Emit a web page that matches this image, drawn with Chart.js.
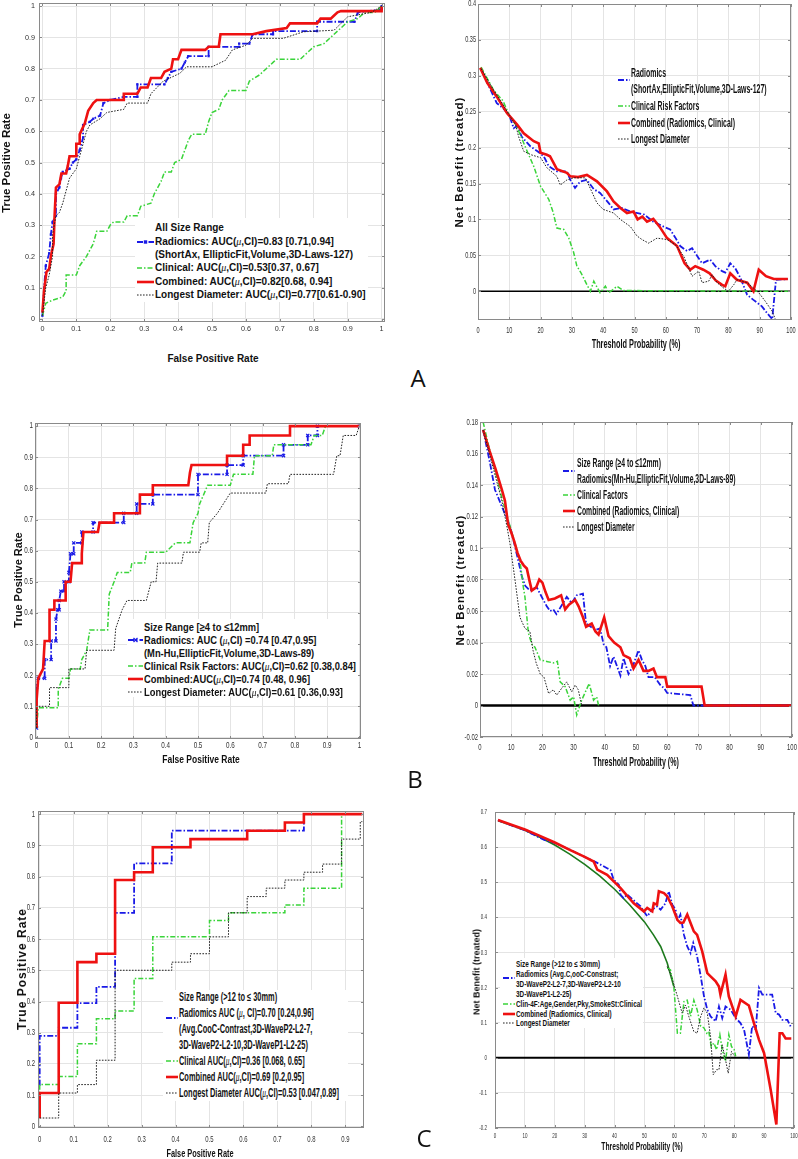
<!DOCTYPE html>
<html lang="en">
<head>
<meta charset="UTF-8">
<title>ROC and decision curves by nodule size</title>
<script src="https://cdn.jsdelivr.net/npm/chart.js@4.4.1/dist/chart.umd.min.js"></script>
<style>
    html, body { margin: 0; padding: 0; background: #fff; }
    body { width: 798px; height: 1159px; position: relative; overflow: hidden;
           font-family: 'Liberation Sans', Arial, sans-serif; color: #111; }
    canvas { position: absolute; }
    .txt { position: absolute; white-space: nowrap; line-height: 1; }
    .mu { font-family: 'Liberation Serif', serif; font-style: italic; font-weight: normal; }
    .letter { position: absolute; font-family: 'Open Sans', sans-serif; font-size: 24px;
              color: #111; transform: translate(-50%, -50%); line-height: 1; }
</style>
</head>
<body>
<script>
// ---- tick values / labels ----
const rocTicks = [0, 0.1, 0.2, 0.3, 0.4, 0.5, 0.6, 0.7, 0.8, 0.9, 1];
const rocLabels = ['0', '0.1', '0.2', '0.3', '0.4', '0.5', '0.6', '0.7', '0.8', '0.9', '1'];
const fprTicksC = [0, 0.1, 0.2, 0.3, 0.4, 0.5, 0.6, 0.7, 0.8, 0.9];
const fprLabelsC = ['0', '0.1', '0.2', '0.3', '0.4', '0.5', '0.6', '0.7', '0.8', '0.9'];
const pctTicks = [0, 10, 20, 30, 40, 50, 60, 70, 80, 90, 100];
const pctLabels = ['0', '10', '20', '30', '40', '50', '60', '70', '80', '90', '100'];
const nbTicksA = [0, 0.05, 0.1, 0.15, 0.2, 0.25, 0.3, 0.35, 0.4];
const nbLabelsA = ['0', '0.05', '0.1', '0.15', '0.2', '0.25', '0.3', '0.35', '0.4'];
const nbTicksB = [-0.02, 0, 0.02, 0.04, 0.06, 0.08, 0.1, 0.12, 0.14, 0.16, 0.18];
const nbLabelsB = ['-0.02', '0', '0.02', '0.04', '0.06', '0.08', '0.1', '0.12', '0.14', '0.16', '0.18'];
const nbTicksC = [-0.2, -0.1, 0, 0.1, 0.2, 0.3, 0.4, 0.5, 0.6, 0.7];
const nbLabelsC = ['-0.2', '-0.1', '0', '0.1', '0.2', '0.3', '0.4', '0.5', '0.6', '0.7'];

// ---- A: all size range, ROC [fpr, tpr] ----
const rocA_radiomics = [[0,0.01],[0.005,0.1],[0.01,0.17],[0.02,0.21],[0.025,0.27],[0.03,0.31],[0.04,0.33],[0.04,0.4],[0.05,0.42],[0.055,0.45],[0.06,0.47],[0.08,0.48],[0.09,0.5],[0.1,0.51],[0.11,0.54],[0.12,0.58],[0.12,0.62],[0.14,0.63],[0.15,0.64],[0.17,0.65],[0.18,0.69],[0.2,0.7],[0.24,0.71],[0.28,0.71],[0.28,0.75],[0.36,0.75],[0.37,0.77],[0.38,0.79],[0.41,0.8],[0.42,0.82],[0.43,0.84],[0.49,0.84],[0.49,0.87],[0.58,0.87],[0.58,0.88],[0.61,0.88],[0.62,0.91],[0.68,0.91],[0.68,0.92],[0.81,0.92],[0.81,0.95],[0.92,0.95],[0.93,0.98],[1,0.99],[1,1]];
const rocA_clinical = [[0,0.01],[0.005,0.03],[0.01,0.05],[0.03,0.06],[0.06,0.07],[0.07,0.09],[0.07,0.14],[0.1,0.14],[0.11,0.17],[0.13,0.2],[0.15,0.24],[0.16,0.28],[0.19,0.28],[0.2,0.3],[0.21,0.31],[0.24,0.31],[0.25,0.33],[0.28,0.33],[0.29,0.36],[0.32,0.37],[0.33,0.4],[0.35,0.44],[0.36,0.47],[0.38,0.47],[0.39,0.5],[0.41,0.51],[0.42,0.54],[0.43,0.57],[0.44,0.59],[0.48,0.59],[0.49,0.63],[0.5,0.66],[0.52,0.67],[0.53,0.7],[0.55,0.73],[0.6,0.73],[0.61,0.76],[0.64,0.78],[0.66,0.8],[0.68,0.82],[0.69,0.83],[0.76,0.83],[0.78,0.85],[0.8,0.87],[0.83,0.88],[0.85,0.9],[0.87,0.92],[0.9,0.95],[0.93,0.96],[0.95,0.98],[0.98,0.98],[1,1]];
const rocA_combined = [[0,0.02],[0.005,0.09],[0.012,0.15],[0.02,0.16],[0.025,0.2],[0.033,0.24],[0.036,0.33],[0.04,0.42],[0.05,0.43],[0.056,0.465],[0.07,0.465],[0.075,0.49],[0.08,0.52],[0.1,0.52],[0.1,0.56],[0.11,0.56],[0.11,0.59],[0.125,0.625],[0.135,0.665],[0.15,0.69],[0.16,0.7],[0.24,0.7],[0.24,0.72],[0.28,0.72],[0.29,0.74],[0.31,0.74],[0.32,0.77],[0.35,0.77],[0.36,0.79],[0.38,0.8],[0.385,0.83],[0.4,0.83],[0.41,0.86],[0.48,0.86],[0.49,0.87],[0.52,0.87],[0.525,0.91],[0.62,0.91],[0.66,0.92],[0.72,0.93],[0.73,0.945],[0.81,0.945],[0.82,0.96],[0.85,0.96],[0.86,0.97],[0.87,0.98],[0.88,0.984],[1,0.984],[1,1]];
const rocA_diameter = [[0,0.01],[0.01,0.1],[0.02,0.14],[0.03,0.2],[0.03,0.27],[0.04,0.33],[0.05,0.34],[0.06,0.37],[0.07,0.41],[0.08,0.45],[0.1,0.48],[0.11,0.52],[0.12,0.56],[0.13,0.6],[0.14,0.62],[0.17,0.64],[0.19,0.66],[0.24,0.67],[0.25,0.69],[0.31,0.69],[0.32,0.72],[0.356,0.76],[0.405,0.785],[0.425,0.806],[0.5,0.806],[0.54,0.827],[0.56,0.86],[0.6,0.875],[0.62,0.897],[0.71,0.897],[0.77,0.918],[0.86,0.923],[0.9,0.966],[0.97,0.98],[1,1]];

// ---- A: decision curves [threshold %, net benefit] ----
const dcaA_radiomics = [[1,0.31],[3,0.29],[6,0.262],[8,0.255],[10,0.245],[11.4,0.227],[12.5,0.23],[14,0.215],[16.7,0.202],[19,0.195],[21,0.188],[22.6,0.174],[25.2,0.167],[28.4,0.167],[29.5,0.155],[31,0.144],[32.7,0.153],[34.8,0.155],[37,0.142],[39,0.137],[41.7,0.123],[43.3,0.114],[46,0.116],[48.7,0.111],[53,0.107],[56,0.097],[59.3,0.09],[61.4,0.086],[63,0.075],[64.6,0.063],[66.8,0.056],[68.4,0.06],[70.5,0.046],[71.6,0.039],[74.2,0.044],[75.8,0.035],[78,0.028],[79,0.026],[80.6,0.039],[82.2,0.032],[83.8,0.019],[86,-0.005],[88,-0.012],[90.7,-0.021],[92.3,-0.03],[94,-0.039],[95.2,0.016],[99,0.017]];
const dcaA_clinical = [[1,0.312],[5,0.28],[8,0.265],[10,0.245],[12,0.232],[13,0.223],[15.7,0.195],[17.8,0.174],[20,0.146],[22.6,0.128],[24,0.11],[25.2,0.088],[27.4,0.086],[29,0.074],[30.5,0.055],[31.6,0.035],[33,0.025],[34.8,0.009],[35.9,0],[37,0.014],[39,-0.002],[40.7,0.007],[41.7,-0.002],[43,0.002],[44.4,0.007],[46.5,0.001],[99,0]];
const dcaA_combined = [[0.7,0.311],[3,0.29],[6,0.271],[9.3,0.248],[12.5,0.232],[14.6,0.22],[17.8,0.209],[19.4,0.206],[20,0.193],[22,0.19],[23,0.188],[25.2,0.17],[28.4,0.165],[29.5,0.16],[32,0.159],[34.8,0.162],[38,0.153],[41.2,0.139],[43.3,0.125],[45.5,0.116],[47.6,0.109],[49.7,0.111],[51,0.1],[52.5,0.104],[54,0.097],[56,0.101],[58,0.09],[60.4,0.074],[63.6,0.063],[66,0.039],[67.8,0.03],[69.4,0.035],[72,0.03],[74,0.025],[76,0.015],[78,0.009],[79,0.007],[80.6,0.025],[82.7,0.016],[86,0.012],[88,0],[89.7,0.03],[92,0.021],[94.5,0.017],[99,0.017]];
const dcaA_diameter = [[1,0.31],[5,0.28],[8,0.26],[10,0.245],[12,0.232],[13,0.215],[14.6,0.195],[17,0.19],[20,0.186],[22,0.172],[25.2,0.16],[26.3,0.148],[28.4,0.155],[30.6,0.158],[34.3,0.158],[36,0.142],[38,0.123],[40,0.114],[43.3,0.109],[45.5,0.1],[48.7,0.09],[50.8,0.077],[52.4,0.072],[54.5,0.067],[57.2,0.074],[60.4,0.072],[63,0.065],[65.7,0.049],[68.4,0.021],[70.5,0.028],[71.6,0.012],[73.7,0.014],[74.8,0.023],[76.4,0.012],[78,0.006],[80,0],[81.7,0.009],[82.7,0.016],[86,0.012],[89.7,-0.002],[91.8,-0.014],[94,-0.028],[95,-0.039]];

// ---- B: >=4 to <=12mm ----
const rocB_radiomics = [[0,0.03],[0,0.16],[0.005,0.19],[0.025,0.19],[0.025,0.25],[0.045,0.25],[0.045,0.31],[0.06,0.31],[0.06,0.38],[0.065,0.41],[0.07,0.41],[0.07,0.44],[0.075,0.47],[0.085,0.47],[0.085,0.5],[0.1,0.5],[0.1,0.53],[0.105,0.59],[0.115,0.59],[0.115,0.625],[0.14,0.625],[0.14,0.66],[0.175,0.66],[0.175,0.69],[0.27,0.69],[0.27,0.72],[0.31,0.72],[0.31,0.75],[0.36,0.75],[0.36,0.78],[0.5,0.78],[0.5,0.845],[0.59,0.845],[0.59,0.875],[0.64,0.875],[0.64,0.905],[0.765,0.905],[0.765,0.94],[0.84,0.94],[0.84,0.97],[0.87,0.97],[0.87,1],[1,1]];
const rocB_clinical = [[0,0.03],[0.005,0.095],[0.067,0.095],[0.067,0.155],[0.08,0.19],[0.1,0.19],[0.105,0.22],[0.135,0.22],[0.14,0.25],[0.155,0.28],[0.165,0.345],[0.22,0.345],[0.225,0.46],[0.24,0.5],[0.25,0.53],[0.29,0.53],[0.295,0.56],[0.335,0.56],[0.34,0.595],[0.4,0.595],[0.43,0.625],[0.475,0.625],[0.485,0.69],[0.5,0.72],[0.505,0.75],[0.53,0.81],[0.6,0.81],[0.61,0.845],[0.67,0.845],[0.675,0.905],[0.73,0.905],[0.735,0.94],[0.85,0.94],[0.86,0.97],[0.885,0.97],[0.895,1],[1,1]];
const rocB_combined = [[0,0.03],[0,0.12],[0.005,0.19],[0.02,0.22],[0.025,0.31],[0.04,0.31],[0.04,0.41],[0.055,0.41],[0.055,0.44],[0.09,0.44],[0.09,0.5],[0.105,0.5],[0.11,0.56],[0.14,0.56],[0.14,0.59],[0.145,0.66],[0.19,0.66],[0.195,0.69],[0.24,0.69],[0.24,0.72],[0.32,0.72],[0.32,0.78],[0.36,0.78],[0.36,0.81],[0.47,0.81],[0.475,0.85],[0.48,0.875],[0.59,0.875],[0.59,0.905],[0.64,0.905],[0.64,0.94],[0.66,0.94],[0.66,0.97],[0.785,0.97],[0.785,1],[1,1]];
const rocB_diameter = [[0,0.03],[0,0.1],[0.04,0.1],[0.04,0.16],[0.1,0.16],[0.1,0.22],[0.15,0.22],[0.155,0.28],[0.24,0.28],[0.245,0.35],[0.265,0.41],[0.28,0.44],[0.34,0.44],[0.355,0.5],[0.37,0.5],[0.375,0.56],[0.45,0.56],[0.455,0.595],[0.505,0.595],[0.51,0.625],[0.53,0.625],[0.535,0.69],[0.56,0.72],[0.6,0.785],[0.71,0.785],[0.715,0.815],[0.78,0.815],[0.785,0.845],[0.92,0.845],[0.93,0.905],[0.94,0.905],[0.95,0.97],[0.99,0.97],[1,1]];

const dcaB_radiomics = [[1,0.175],[3.2,0.154],[4.8,0.137],[7.5,0.124],[9.6,0.114],[11.2,0.101],[12.5,0.09],[13.4,0.082],[14.5,0.076],[16,0.073],[18.2,0.075],[20.3,0.067],[21.4,0.063],[22.5,0.06],[23.5,0.061],[24.5,0.058],[26,0.063],[27.8,0.069],[29.4,0.065],[31,0.07],[33,0.071],[34,0.052],[35.5,0.05],[37,0.048],[38.5,0.049],[39.6,0.039],[40.5,0.037],[41.7,0.025],[42.8,0.031],[45,0.019],[46,0.03],[47.6,0.02],[49,0.025],[50.8,0.035],[51.9,0.029],[53,0.025],[54,0.018],[56,0.018],[57.8,0.013],[59,0.011],[60,0.008],[67.4,0.0066],[68.4,0],[100,0]];
const dcaB_clinical = [[1,0.18],[3,0.163],[5,0.148],[7,0.132],[9.6,0.114],[11.8,0.099],[12.8,0.092],[13.9,0.075],[14.4,0.069],[15.5,0.046],[16.6,0.039],[17.6,0.037],[19.3,0.029],[21.4,0.028],[23.5,0.027],[24.8,0.028],[25.7,0.015],[27.3,0.012],[28.9,0.0034],[30,0.0055],[31,-0.006],[32.6,0.0034],[35,0.014],[36.4,0.0034],[37.4,0.0055],[38,0]];
const dcaB_combined = [[1,0.175],[3,0.162],[5,0.15],[7,0.137],[8,0.13],[9,0.115],[10,0.11],[11,0.104],[12,0.097],[13,0.092],[14,0.089],[15,0.087],[16,0.078],[16.6,0.073],[18,0.075],[19,0.08],[20,0.078],[21,0.072],[22,0.067],[24,0.068],[26,0.07],[27.3,0.061],[28.5,0.064],[30.5,0.067],[31.6,0.063],[33,0.056],[34,0.05],[35.8,0.052],[37,0.047],[38,0.045],[39.8,0.056],[41.2,0.044],[43,0.04],[45,0.037],[46,0.032],[48,0.03],[49.2,0.0235],[50.8,0.029],[52.4,0.022],[54,0.022],[55.6,0.0235],[56.7,0.018],[59.4,0.018],[60,0.012],[71,0.012],[72,0],[100,0]];
const dcaB_diameter = [[1,0.175],[3,0.16],[5,0.145],[7,0.13],[8.5,0.115],[9.6,0.103],[11.2,0.08],[12.8,0.056],[14.4,0.049],[16,0.047],[17,0.035],[18,0.027],[19.3,0.02],[20.5,0.018],[22,0.0076],[23.5,0.01],[24.6,0.0066],[26.2,0.011],[27.8,0.015],[29.4,0.0087],[30.5,0.013],[31.5,0.01],[32.6,0]];

// ---- C: >12 to <=30mm ----
const rocC_radiomics = [[0,0.13],[0,0.29],[0.056,0.29],[0.056,0.316],[0.111,0.316],[0.111,0.395],[0.167,0.395],[0.167,0.447],[0.222,0.447],[0.222,0.684],[0.278,0.684],[0.278,0.842],[0.389,0.842],[0.389,0.947],[0.778,0.947],[0.778,1],[0.95,1]];
const rocC_clinical = [[0,0.05],[0,0.134],[0.056,0.134],[0.056,0.16],[0.111,0.16],[0.111,0.265],[0.167,0.265],[0.167,0.345],[0.222,0.345],[0.222,0.37],[0.278,0.37],[0.278,0.474],[0.333,0.474],[0.333,0.607],[0.5,0.607],[0.5,0.659],[0.556,0.659],[0.556,0.684],[0.722,0.684],[0.722,0.709],[0.778,0.709],[0.778,0.763],[0.889,0.763],[0.889,1],[0.95,1]];
const rocC_combined = [[0,0.026],[0,0.107],[0.056,0.107],[0.056,0.396],[0.111,0.396],[0.111,0.526],[0.167,0.526],[0.167,0.553],[0.222,0.553],[0.222,0.789],[0.278,0.789],[0.278,0.814],[0.333,0.814],[0.333,0.894],[0.444,0.894],[0.444,0.92],[0.611,0.92],[0.611,0.947],[0.722,0.947],[0.722,0.973],[0.778,0.973],[0.778,1],[0.95,1]];
const rocC_diameter = [[0,0.027],[0.056,0.027],[0.056,0.107],[0.111,0.107],[0.111,0.134],[0.167,0.134],[0.167,0.212],[0.222,0.212],[0.222,0.5],[0.389,0.5],[0.389,0.526],[0.444,0.526],[0.444,0.553],[0.5,0.553],[0.5,0.607],[0.556,0.607],[0.556,0.684],[0.611,0.684],[0.611,0.736],[0.667,0.736],[0.667,0.763],[0.722,0.763],[0.722,0.789],[0.778,0.789],[0.778,0.814],[0.833,0.814],[0.833,0.84],[0.889,0.84],[0.889,0.92],[0.944,0.92],[0.944,0.976],[0.95,0.976]];

const dcaC_radiomics = [[1,0.677],[5,0.663],[10,0.648],[16.3,0.621],[20,0.612],[25,0.593],[30,0.572],[33,0.56],[34.2,0.555],[37.5,0.54],[38.6,0.535],[39.7,0.507],[41.4,0.493],[42,0.464],[43,0.455],[44.2,0.465],[48.7,0.431],[50.9,0.403],[52.6,0.422],[54.2,0.431],[55.4,0.422],[57,0.44],[58.1,0.474],[59.3,0.436],[60.4,0.422],[61,0.389],[62,0.408],[63.2,0.35],[64.3,0.317],[65.4,0.298],[66.3,0.327],[67.6,0.289],[68.8,0.232],[69.9,0.175],[71,0.137],[72.1,0.118],[73.8,0.104],[74.9,0.146],[76,0.113],[77.1,0.146],[78.8,0.137],[80.5,0.113],[82.1,0.099],[83.3,0.08],[84.9,0.009],[86,0.09],[87.2,0.08],[88.3,0.199],[89.4,0.18],[92.7,0.18],[93.9,0.127],[95,0.123],[96.1,0.108],[97.8,0.108],[99.1,0.085]];
const dcaC_clinical = [[57.6,0.256],[58.7,0.25],[59.8,0.203],[61,0.07],[62,0.07],[63.2,0.16],[64.3,0.164],[65.4,0.118],[66.5,0.164],[67.6,0.137],[68.8,0.09],[69.9,0.085],[70.8,0.07],[71.5,0.075],[72.3,0.032],[73.2,0.042],[74.1,0.023],[75.2,0.066],[76,0.023],[77.1,-0.01],[78.2,0.066],[79.1,0.032],[80,0.023],[80.5,0.004]];
const dcaC_combined = [[1,0.677],[5,0.665],[10,0.65],[15,0.632],[20,0.613],[25,0.592],[30,0.572],[33,0.559],[34.2,0.536],[37.5,0.521],[42,0.483],[46.4,0.44],[49.8,0.417],[50.9,0.427],[52.6,0.417],[53.1,0.44],[54.2,0.436],[54.8,0.474],[56.5,0.469],[57.6,0.46],[59.3,0.431],[61,0.393],[62,0.384],[63,0.385],[64.3,0.408],[65.4,0.384],[66.5,0.36],[67.6,0.35],[69.3,0.303],[71,0.241],[72.1,0.232],[73.8,0.218],[74.9,0.203],[75.4,0.18],[77.1,0.237],[78.2,0.175],[80.5,0.118],[82.1,0.165],[84.9,0.149],[86.6,0.099],[88.3,0.051],[90,0.013],[92.2,-0.091],[94.1,-0.19],[95.2,0.07],[96.1,0.07],[97.2,0.055],[99.1,0.055]];
const dcaC_diameter = [[57.6,0.26],[58.7,0.24],[61,0.175],[62.6,0.127],[63.7,0.15],[64.8,0.118],[66.5,0.075],[67.6,0.07],[68.8,0.118],[69.9,0.142],[71,0.127],[72.1,0.06],[73,-0.048],[74.1,-0.034],[74.9,-0.034],[76,0.037],[77.1,-0.006],[78,-0.044],[79.1,0.018],[80.2,0.004]];
const dcaC_treatAll = [[1,0.675],[5,0.664],[10,0.648],[15,0.628],[20,0.606],[25,0.58],[30,0.551],[35,0.518],[40,0.48],[45,0.436],[50,0.387],[53,0.35],[55.4,0.317],[57.6,0.27],[59.8,0.203]];

const zeroLine = [[0, 0], [100, 0]];

// ---- legend texts ----
const legA1 = ['All Size Range', 'Radiomics: AUC(μ,CI)=0.83 [0.71,0.94]', '(ShortAx, EllipticFit,Volume,3D-Laws-127)',
    'Clinical: AUC(μ,CI)=0.53[0.37, 0.67]', 'Combined: AUC(μ,CI)=0.82[0.68, 0.94]', 'Longest Diameter: AUC(μ,CI)=0.77[0.61-0.90]'];
const legA2 = ['Radiomics', '(ShortAx,EllipticFit,Volume,3D-Laws-127)', 'Clinical Risk Factors', 'Combined (Radiomics, Clinical)', 'Longest Diameter'];
const legB1 = ['Size Range [≥4 to ≤12mm]', 'Radiomics: AUC (μ,CI) =0.74 [0.47,0.95]', '(Mn-Hu,EllipticFit,Volume,3D-Laws-89)',
    'Clinical Rsik Factors: AUC(μ,CI)=0.62 [0.38,0.84]', 'Combined:AUC(μ,CI)=0.74 [0.48, 0.96]', 'Longest Diameter: AUC(μ,CI)=0.61 [0.36,0.93]'];
const legB2 = ['Size Range (≥4 to ≤12mm)', 'Radiomics(Mn-Hu,EllipticFit,Volume,3D-Laws-89)', 'Clinical Factors', 'Combined (Radiomics, Clinical)', 'Longest Diameter'];
const legC1 = ['Size Range (>12 to ≤ 30mm)', 'Radiomics AUC (μ, CI)=0.70 [0.24,0.96]', '(Avg.CooC-Contrast,3D-WaveP2-L2-7,', '3D-WaveP2-L2-10,3D-WaveP1-L2-25)',
    'Clinical AUC(μ,CI)=0.36 [0.068, 0.65]', 'Combined AUC(μ,CI)=0.69 [0.2,0.95]', 'Longest Diameter AUC(μ,CI)=0.53 [0.047,0.89]'];
const legC2 = ['Size Range (>12 to ≤ 30mm)', 'Radiomics (Avg.C,ooC-Constrast;', '3D-WaveP2-L2-7,3D-WaveP2-L2-10', '3D-WaveP1-L2-25)',
    'Clin-4F:Age,Gender,Pky,SmokeSt:Clinical', 'Combined (Radiomics, Clinical)', 'Longest Diameter'];

// line styles
const STY = {
    rad:  { c: '#1a1ae6', w: 1.8, d: [6, 2, 1.5, 2] },
    cli:  { c: '#3ad43a', w: 1.5, d: [5, 2, 1.5, 2] },
    com:  { c: '#ee1111', w: 2.6, d: [] },
    dia:  { c: '#222222', w: 1,   d: [1.6, 1.4] },
    zero: { c: '#000000', w: 2,   d: [] },
    all:  { c: '#1d7a1d', w: 1.6, d: [] }
};

const PADL = 50, PADT = 6, PADR = 10, PADB = 24;

// draws frame, inward ticks and (horizontally squeezed) tick labels
const axisPlugin = {
    id: 'axisText',
    afterDraw(chart, args, o) {
        const ctx = chart.ctx, a = chart.chartArea;
        const sx = chart.scales.x, sy = chart.scales.y;
        ctx.save();
        ctx.strokeStyle = '#8a8a8a';
        ctx.lineWidth = 1;
        ctx.strokeRect(a.left + 0.5, a.top + 0.5, a.right - a.left - 1, a.bottom - a.top - 1);
        ctx.beginPath();
        o.xt.forEach(v => {
            const px = Math.round(sx.getPixelForValue(v)) + 0.5;
            ctx.moveTo(px, a.bottom); ctx.lineTo(px, a.bottom - 3);
            ctx.moveTo(px, a.top); ctx.lineTo(px, a.top + 3);
        });
        o.yt.forEach(v => {
            const py = Math.round(sy.getPixelForValue(v)) + 0.5;
            ctx.moveTo(a.left, py); ctx.lineTo(a.left + 3, py);
            ctx.moveTo(a.right, py); ctx.lineTo(a.right - 3, py);
        });
        ctx.stroke();

        ctx.fillStyle = '#333';
        ctx.font = o.size + 'px "Liberation Sans", Arial, sans-serif';
        ctx.textBaseline = 'middle';
        o.xt.forEach((v, i) => {
            ctx.save();
            ctx.translate(sx.getPixelForValue(v), a.bottom + o.xGap);
            ctx.scale(o.sx, 1);
            ctx.textAlign = 'center';
            ctx.fillText(o.xl[i], 0, 0);
            ctx.restore();
        });
        o.yt.forEach((v, i) => {
            ctx.save();
            ctx.translate(a.left - o.yGap, sy.getPixelForValue(v));
            ctx.scale(o.sx, 1);
            ctx.textAlign = 'right';
            ctx.fillText(o.yl[i], 0, 0);
            ctx.restore();
        });
        ctx.restore();
    }
};

function ds(arr, key, extra) {
    const s = STY[key];
    return Object.assign({
        data: arr.map(p => ({ x: p[0], y: p[1] })),
        showLine: true,
        borderColor: s.c,
        backgroundColor: s.c,
        borderWidth: s.w,
        borderDash: s.d,
        pointRadius: 0,
        tension: 0,
        fill: false
    }, extra || {});
}

// box = chart area [left, top, width, height] in page pixels
function makePanel(box, xr, yr, datasets, tk) {
    const c = document.createElement('canvas');
    const w = box[2] + PADL + PADR, h = box[3] + PADT + PADB;
    c.width = w; c.height = h;
    c.style.left = (box[0] - PADL) + 'px';
    c.style.top = (box[1] - PADT) + 'px';
    c.style.width = w + 'px';
    c.style.height = h + 'px';
    document.body.appendChild(c);

    const scale = (r, isX) => ({
        type: 'linear',
        min: r.min,
        max: r.max,
        afterBuildTicks: s => { s.ticks = r.t.map(v => ({ value: v })); },
        afterFit: s => { if (isX) s.height = PADB; else s.width = PADL; },
        ticks: { display: false },
        grid: { color: '#e4e4e4', drawTicks: false, lineWidth: 1 },
        border: { display: false }
    });

    new Chart(c.getContext('2d'), {
        type: 'scatter',
        data: { datasets: datasets },
        options: {
            responsive: false,
            animation: false,
            devicePixelRatio: 1,
            layout: { autoPadding: false, padding: { left: 0, top: PADT, right: PADR, bottom: 0 } },
            scales: { x: scale(xr, true), y: scale(yr, false) },
            plugins: {
                legend: { display: false },
                tooltip: { enabled: false },
                axisText: Object.assign({ xt: xr.t, xl: xr.l, yt: yr.t, yl: yr.l }, tk)
            }
        },
        plugins: [axisPlugin]
    });
}

function addText(t, x, y, o) {
    const d = document.createElement('div');
    d.className = 'txt';
    d.innerHTML = t.replace('μ', '<span class="mu">μ</span>');
    d.style.left = x + 'px';
    d.style.top = y + 'px';
    d.style.fontSize = o.size + 'px';
    d.style.fontWeight = o.bold ? 'bold' : 'normal';
    if (o.ls) d.style.letterSpacing = o.ls + 'px';
    if (o.align === 'left') {
        d.style.transformOrigin = 'left center';
        d.style.transform = `translateY(-50%) scaleX(${o.sx || 1})`;
    } else {
        d.style.transform = `translate(-50%,-50%)${o.rot ? ' rotate(-90deg)' : ''} scaleX(${o.sx || 1})`;
    }
    document.body.appendChild(d);
}

function addSample(key, x, y, len, marker) {
    const s = STY[key];
    let m = '';
    if (marker === 'rect') m = `<rect x="${len / 2 - 1.7}" y="3.3" width="3.4" height="3.4" fill="${s.c}"/>`;
    if (marker === 'x') m = `<path d="M${len / 2 - 2} 3 L${len / 2 + 2} 7 M${len / 2 + 2} 3 L${len / 2 - 2} 7" stroke="${s.c}" stroke-width="1.2"/>`;
    const dash = s.d.length ? s.d.join(' ') : 'none';
    document.body.insertAdjacentHTML('beforeend',
        `<svg width="${len}" height="10" style="position:absolute;left:${x}px;top:${y - 5}px;overflow:visible">` +
        `<line x1="0" y1="5" x2="${len}" y2="5" stroke="${s.c}" stroke-width="${s.w}" stroke-dasharray="${dash}"/>${m}</svg>`);
}

function addLegend(rows, o) {
    if (o.box) {
        const b = document.createElement('div');
        b.style.cssText = `position:absolute;left:${o.box[0]}px;top:${o.box[1]}px;width:${o.box[2]}px;height:${o.box[3]}px;background:#fff;`;
        document.body.appendChild(b);
    }
    rows.forEach((t, i) => addText(t, o.tx, o.y0 + i * o.pitch, { size: o.size, bold: o.bold, sx: o.sx, align: 'left' }));
    o.samples.forEach(([k, r]) => addSample(k, o.x, o.y0 + r * o.pitch, o.len, k === 'rad' ? o.marker : null));
}

function addLetter(t, x, y) {
    const d = document.createElement('div');
    d.className = 'letter';
    d.textContent = t;
    d.style.left = x + 'px';
    d.style.top = y + 'px';
    document.body.appendChild(d);
}

// ---------------- panels ----------------
const rocAxis = { min: -0.01, max: 1.01, t: rocTicks, l: rocLabels };

// A left: ROC
makePanel([39, 3, 346, 319], rocAxis, rocAxis,
    [ds(rocA_diameter, 'dia'), ds(rocA_combined, 'com'), ds(rocA_clinical, 'cli'),
     ds(rocA_radiomics, 'rad', { pointRadius: 1.6, pointStyle: 'rect', pointBorderWidth: 0 })],
    { size: 8, sx: 0.9, xGap: 7, yGap: 4 });

// A right: decision curve
makePanel([478, 4, 313, 316], { min: 0, max: 100, t: pctTicks, l: pctLabels },
    { min: -0.04, max: 0.4, t: nbTicksA, l: nbLabelsA },
    [ds(dcaA_diameter, 'dia'), ds(dcaA_combined, 'com'), ds(dcaA_clinical, 'cli'), ds(dcaA_radiomics, 'rad'),
     ds(zeroLine, 'zero', { borderWidth: 1.5 })],
    { size: 9, sx: 0.62, xGap: 11, yGap: 2 });

// B left: ROC
makePanel([35, 423, 326, 316], { min: -0.005, max: 1.005, t: rocTicks, l: rocLabels },
    { min: -0.005, max: 1.01, t: rocTicks, l: rocLabels },
    [ds(rocB_diameter, 'dia'), ds(rocB_combined, 'com'), ds(rocB_clinical, 'cli'),
     ds(rocB_radiomics, 'rad', { pointRadius: 2.2, pointStyle: 'crossRot', pointBorderWidth: 1.2 })],
    { size: 8.5, sx: 0.74, xGap: 7, yGap: 2 });

// B right: decision curve
makePanel([480, 422, 312, 315], { min: 0, max: 100, t: pctTicks, l: pctLabels },
    { min: -0.02, max: 0.18, t: nbTicksB, l: nbLabelsB },
    [ds(dcaB_diameter, 'dia'), ds(dcaB_combined, 'com'), ds(dcaB_clinical, 'cli'), ds(dcaB_radiomics, 'rad'),
     ds(zeroLine, 'zero', { borderWidth: 2.5 })],
    { size: 9.5, sx: 0.62, xGap: 10, yGap: 2 });

// C left: ROC
makePanel([38, 811, 326, 317], { min: -0.005, max: 0.955, t: fprTicksC, l: fprLabelsC },
    { min: -0.005, max: 1.01, t: rocTicks, l: rocLabels },
    [ds(rocC_diameter, 'dia'), ds(rocC_combined, 'com'), ds(rocC_clinical, 'cli'), ds(rocC_radiomics, 'rad')],
    { size: 9, sx: 0.66, xGap: 12, yGap: 3 });

// C right: decision curve
makePanel([495, 812, 299, 316], { min: 0, max: 100, t: pctTicks, l: pctLabels },
    { min: -0.2, max: 0.7, t: nbTicksC, l: nbLabelsC },
    [ds(dcaC_diameter, 'dia'), ds(dcaC_combined, 'com'), ds(dcaC_clinical, 'cli'), ds(dcaC_radiomics, 'rad'),
     ds(dcaC_treatAll, 'all'), ds(zeroLine, 'zero')],
    { size: 7.5, sx: 0.6, xGap: 8, yGap: 8 });

// ---------------- legends ----------------
addLegend(legA1, { box: [135, 218, 233, 84], x: 137, len: 17, tx: 155, y0: 228.3, pitch: 13.3, size: 10, bold: true, sx: 1,
    marker: 'rect', samples: [['rad', 1], ['cli', 3], ['com', 4], ['dia', 5]] });
addLegend(legA2, { box: null, x: 618, len: 12, tx: 631, y0: 72.7, pitch: 16.65, size: 12.5, bold: true, sx: 0.555,
    samples: [['rad', 0.45], ['cli', 2], ['com', 3], ['dia', 4]] });
addLegend(legB1, { box: [127, 619, 231, 78], x: 128, len: 15, tx: 144, y0: 627.3, pitch: 13, size: 11, bold: true, sx: 0.85,
    marker: 'x', samples: [['rad', 1], ['cli', 3], ['com', 4], ['dia', 5]] });
addLegend(legB2, { box: null, x: 563, len: 12, tx: 576.7, y0: 463.3, pitch: 16, size: 12.5, bold: true, sx: 0.545,
    samples: [['rad', 0.45], ['cli', 2], ['com', 3], ['dia', 4]] });
addLegend(legC1, { box: [163, 990, 185, 111], x: 166, len: 12, tx: 179, y0: 996.7, pitch: 16, size: 12, bold: true, sx: 0.62,
    samples: [['rad', 1.35], ['cli', 4], ['com', 5], ['dia', 6]] });
addLegend(legC2, { box: [500, 958, 143, 70], x: 503, len: 12, tx: 516, y0: 964, pitch: 9.9, size: 8.5, bold: true, sx: 0.75,
    samples: [['rad', 1.45], ['cli', 4], ['com', 5], ['dia', 6]] });

// ---------------- axis titles ----------------
addText('True Positive Rate', 7, 163, { size: 11.5, bold: true, rot: true });
addText('False Positive Rate', 213, 359, { size: 10, bold: true });
addText('Net Benefit (treated)', 460, 162, { size: 11.5, bold: true, rot: true, ls: 1 });
addText('Threshold Probability (%)', 636, 344, { size: 12, bold: true, sx: 0.61 });

addText('True Positive Rate', 18, 580, { size: 11, bold: true, rot: true });
addText('False Positive Rate', 201, 760, { size: 10, bold: true, sx: 0.85 });
addText('Net Benefit (treated)', 461, 580, { size: 11.5, bold: true, rot: true, ls: 1 });
addText('Threshold Probability (%)', 636, 762, { size: 12, bold: true, sx: 0.59 });

addText('True Positive Rate', 22, 969, { size: 12, bold: true, rot: true, ls: 1 });
addText('False Positive Rate', 200, 1153, { size: 11, bold: true, sx: 0.67 });
addText('Net Benefit (treated)', 477, 972, { size: 9, bold: true, rot: true });
addText('Threshold Probability (%)', 642, 1146, { size: 11, bold: true, sx: 0.61 });

addLetter('A', 418, 378);
addLetter('B', 415, 779);
addLetter('C', 424, 1138);
</script>
</body>
</html>
